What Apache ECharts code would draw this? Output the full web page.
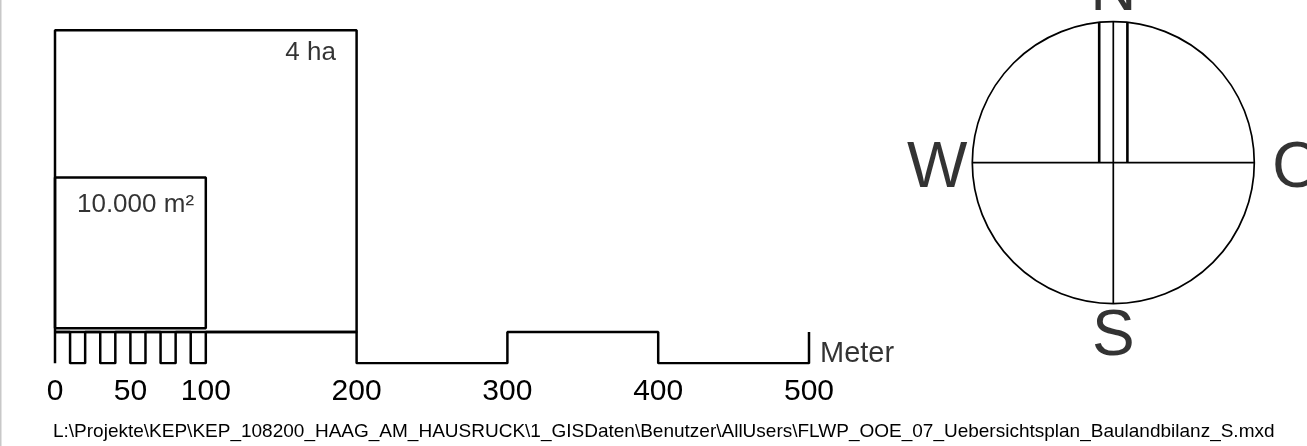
<!DOCTYPE html>
<html>
<head>
<meta charset="utf-8">
<script src="https://cdn.jsdelivr.net/npm/echarts@6/dist/echarts.min.js"></script>
<style>
html,body{margin:0;padding:0;background:#fff;}
#c{width:1307px;height:446px;}
</style>
</head>
<body>
<div id="c"></div>
<script>
// ---- data (metres) ----
const scaleTickLabels = [0, 50, 100, 200, 300, 400, 500];
const scaleBreaks = [0, 10, 20, 30, 40, 50, 60, 70, 80, 90, 100, 200, 300, 400, 500];
const scaleSegmentLevels = ['top','bottom','top','bottom','top','bottom','top','bottom','top','bottom','top','bottom','top','bottom'];
const scaleUnit = 'Meter';
const squareSides = [200, 100];
const squareBases = [0, 2.4];
const squareLabels = ['4 ha', '10.000 m²'];
const compassLetters = ['N', 'W', 'O', 'S'];
const northArrowOffsets = [-10, 10];
const footerText = 'L:\\Projekte\\KEP\\KEP_108200_HAAG_AM_HAUSRUCK\\1_GISDaten\\Benutzer\\AllUsers\\FLWP_OOE_07_Uebersichtsplan_Baulandbilanz_S.mxd';

// ---- build ----
const FONT = '"Liberation Sans", Arial, sans-serif';
const barTop = 0, barBottom = -20.8;
const levelY = { top: barTop, bottom: barBottom };

const barPoints = [[scaleBreaks[0], barBottom]];
for (let i = 0; i < scaleSegmentLevels.length; i++) {
  const y = levelY[scaleSegmentLevels[i]];
  barPoints.push([scaleBreaks[i], y]);
  barPoints.push([scaleBreaks[i + 1], y]);
}
barPoints.push([scaleBreaks[scaleBreaks.length - 1], barTop]);

function squarePath(side, base) {
  return [[0, base], [side, base], [side, base + side], [0, base + side], [0, base]];
}

const lineBase = { type: 'line', symbol: 'none', silent: true, animation: false };

const series = [];
series.push(Object.assign({}, lineBase, {
  xAxisIndex: 0, yAxisIndex: 0, data: barPoints,
  lineStyle: { color: '#000', width: 2.5 }
}));
squareSides.forEach((s, i) => {
  series.push(Object.assign({}, lineBase, {
    xAxisIndex: 0, yAxisIndex: 0, data: squarePath(s, squareBases[i]),
    lineStyle: { color: '#000', width: 2.5 }
  }));
});
// square labels (anchored near the upper-right inside corner)
const squareLabelAnchors = [[186.3, 185.1], [92.2, 84.4]];
series.push({
  type: 'scatter', xAxisIndex: 0, yAxisIndex: 0, silent: true, animation: false,
  symbolSize: 0,
  data: squareLabels.map((t, i) => ({ value: squareLabelAnchors[i], name: t })),
  label: {
    show: true, position: 'left', distance: 0, formatter: '{b}',
    color: '#000', fontSize: 26, fontFamily: FONT
  }
});
// unit label at the end of the scale bar
series.push({
  type: 'scatter', xAxisIndex: 0, yAxisIndex: 0, silent: true, animation: false,
  symbolSize: 0,
  data: [{ value: [scaleBreaks[scaleBreaks.length - 1], -14.4], name: scaleUnit }],
  label: {
    show: true, position: 'right', distance: 11, formatter: '{b}',
    color: '#000', fontSize: 29, fontFamily: FONT
  }
});
// north arrow lines
northArrowOffsets.forEach(o => {
  series.push(Object.assign({}, lineBase, {
    xAxisIndex: 1, yAxisIndex: 1, data: [[o, 0], [o, 99.5]],
    lineStyle: { color: '#000', width: 2.6 }
  }));
});
// compass letters
const letterPoints = { N: [0, 100], W: [-100, 0], O: [100, 0], S: [0, -100] };
const letterPos = {
  N: ['top', -2.5, [0, 0]],
  W: ['left', 5, [0, 6.5]],
  O: ['right', 18, [0, 6.5]],
  S: ['bottom', 2, [0, 0]]
};
series.push({
  type: 'scatter', xAxisIndex: 1, yAxisIndex: 1, silent: true, animation: false,
  symbolSize: 0,
  data: compassLetters.map(l => ({
    value: letterPoints[l], name: l,
    label: { position: letterPos[l][0], distance: letterPos[l][1], offset: letterPos[l][2] }
  })),
  label: {
    show: true, formatter: '{b}', color: '#000',
    fontSize: 64, lineHeight: 64, fontFamily: FONT
  }
});

const option = {
  backgroundColor: '#fff',
  animation: false,
  title: {
    text: footerText, left: 53, top: 422, padding: 0,
    textStyle: { fontSize: 19, fontWeight: 'normal', color: '#000', fontFamily: FONT }
  },
  graphic: [{
    type: 'rect', silent: true,
    shape: { x: 0, y: 0, width: 1.5, height: 446 },
    style: { fill: '#c8c8c8' }
  }],
  grid: [
    { left: 55, width: 754, top: 15.25, height: 348.05 },
    { left: 972.3, top: 21.7, width: 282, height: 282 }
  ],
  xAxis: [
    {
      type: 'value', gridIndex: 0, min: 0, max: 500,
      axisLine: { show: false }, axisTick: { show: false }, splitLine: { show: false },
      axisLabel: {
        show: true, customValues: scaleTickLabels, margin: 13,
        color: '#000', fontSize: 30, fontFamily: FONT
      }
    },
    { type: 'value', gridIndex: 1, min: -100, max: 100, show: false }
  ],
  yAxis: [
    { type: 'value', gridIndex: 0, min: barBottom, max: 210, show: false },
    { type: 'value', gridIndex: 1, min: -100, max: 100, show: false }
  ],
  polar: { center: [1113.3, 162.7], radius: 141 },
  angleAxis: {
    type: 'value', min: 0, max: 360, interval: 90, startAngle: 0,
    axisLine: { show: true, lineStyle: { color: '#000', width: 1.7 } },
    axisTick: { show: false }, axisLabel: { show: false },
    splitLine: { show: true, lineStyle: { color: '#000', width: 1.7 } }
  },
  radiusAxis: { type: 'value', min: 0, max: 1, show: false },
  series: series
};

const chart = echarts.init(document.getElementById('c'), null, { renderer: 'canvas' });
chart.setOption(option);
</script>
</body>
</html>
